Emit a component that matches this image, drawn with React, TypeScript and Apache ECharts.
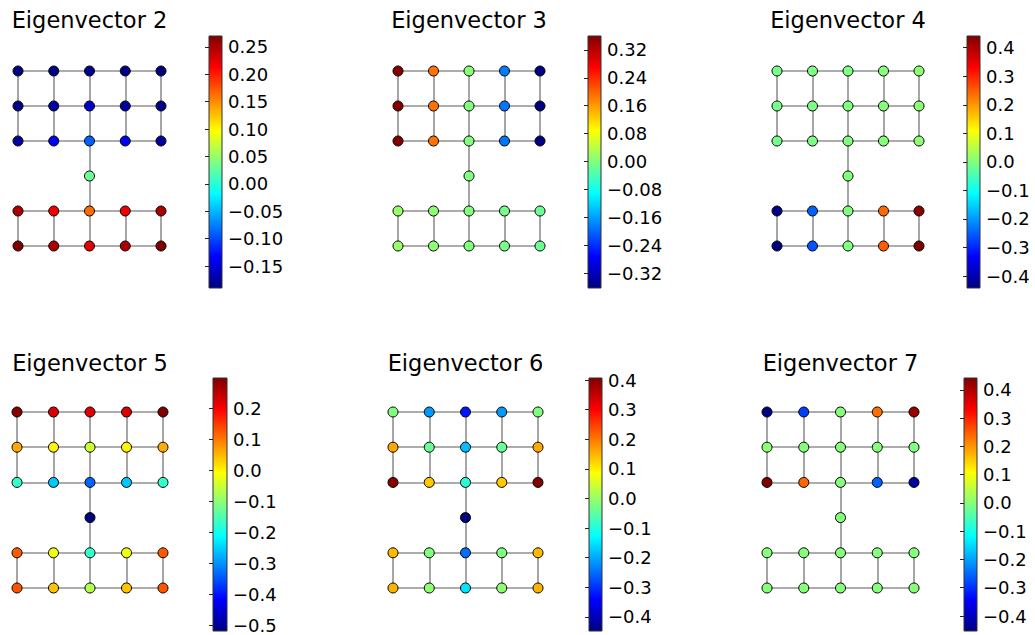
import React, { useEffect, useRef } from "react";
import * as echarts from "echarts";

// ---- data ----
const TITLES = ["Eigenvector 2", "Eigenvector 3", "Eigenvector 4", "Eigenvector 5", "Eigenvector 6", "Eigenvector 7"];

// node layout (grid coordinates): top 3x5 grid, bridge node, bottom 2x5 grid
const NODE_X = [0, 1, 2, 3, 4, 0, 1, 2, 3, 4, 0, 1, 2, 3, 4, 2, 0, 1, 2, 3, 4, 0, 1, 2, 3, 4];
const NODE_Y = [5, 5, 5, 5, 5, 4, 4, 4, 4, 4, 3, 3, 3, 3, 3, 2, 1, 1, 1, 1, 1, 0, 0, 0, 0, 0];

const EDGES: [number, number][] = [
  [0, 1], [1, 2], [2, 3], [3, 4],
  [5, 6], [6, 7], [7, 8], [8, 9],
  [10, 11], [11, 12], [12, 13], [13, 14],
  [16, 17], [17, 18], [18, 19], [19, 20],
  [21, 22], [22, 23], [23, 24], [24, 25],
  [0, 5], [1, 6], [2, 7], [3, 8], [4, 9],
  [5, 10], [6, 11], [7, 12], [8, 13], [9, 14],
  [12, 15], [15, 18],
  [16, 21], [17, 22], [18, 23], [19, 24], [20, 25],
];

const EV2 = [
  -0.19, -0.187, -0.183, -0.187, -0.19,
  -0.186, -0.175, -0.155, -0.175, -0.186,
  -0.178, -0.14, -0.09, -0.14, -0.178,
  0.03,
  0.25, 0.22, 0.165, 0.22, 0.25,
  0.27, 0.25, 0.225, 0.25, 0.27,
];
const EV3 = [
  0.355, 0.19, 0.005, -0.185, -0.36,
  0.358, 0.19, 0.0, -0.19, -0.363,
  0.36, 0.19, 0.0, -0.19, -0.36,
  0.0,
  0.015, 0.008, 0.0, -0.008, -0.015,
  0.015, 0.008, 0.0, -0.008, -0.015,
];
const EV4 = [
  -0.01, -0.005, 0.0, 0.005, 0.01,
  -0.01, -0.005, 0.0, 0.005, 0.01,
  -0.01, -0.005, 0.0, 0.005, 0.01,
  0.0,
  -0.43, -0.25, 0.0, 0.24, 0.43,
  -0.442, -0.26, 0.0, 0.25, 0.441,
];
const EV5 = [
  0.29, 0.225, 0.22, 0.225, 0.298,
  0.06, 0.0, -0.05, 0.0, 0.06,
  -0.172, -0.258, -0.337, -0.258, -0.172,
  -0.519,
  0.125, -0.02, -0.17, -0.02, 0.125,
  0.13, 0.04, -0.07, 0.04, 0.13,
];
const EV6 = [
  -0.02, -0.215, -0.324, -0.215, -0.02,
  0.159, -0.04, -0.182, -0.04, 0.159,
  0.4, 0.133, -0.094, 0.133, 0.407,
  -0.448,
  0.145, -0.02, -0.249, -0.02, 0.145,
  0.15, -0.01, -0.149, -0.01, 0.15,
];
const EV7 = [
  -0.453, -0.288, 0.0, 0.234, 0.42,
  0.005, 0.0, 0.0, 0.0, -0.005,
  0.442, 0.24, 0.0, -0.256, -0.43,
  0.0,
  0.0, 0.0, 0.0, 0.0, 0.0,
  0.0, 0.0, 0.0, 0.0, 0.0,
];
const VALUES = [EV2, EV3, EV4, EV5, EV6, EV7];

const TICKS = [
  [-0.15, -0.1, -0.05, 0.0, 0.05, 0.1, 0.15, 0.2, 0.25],
  [-0.32, -0.24, -0.16, -0.08, 0.0, 0.08, 0.16, 0.24, 0.32],
  [-0.4, -0.3, -0.2, -0.1, 0.0, 0.1, 0.2, 0.3, 0.4],
  [-0.5, -0.4, -0.3, -0.2, -0.1, 0.0, 0.1, 0.2],
  [-0.4, -0.3, -0.2, -0.1, 0.0, 0.1, 0.2, 0.3, 0.4],
  [-0.4, -0.3, -0.2, -0.1, 0.0, 0.1, 0.2, 0.3, 0.4],
];
const TICK_DECIMALS = [2, 2, 1, 1, 1, 1];

const JET = ["#000080", "#0000ff", "#0080ff", "#00ffff", "#80ff80", "#ffff00", "#ff8000", "#ff0000", "#800000"];

// ---- layout ----
const GRAPH_BOX = [
  { left: 18, top: 71, width: 143, height: 175 },
  { left: 398, top: 71, width: 142, height: 175 },
  { left: 777, top: 71, width: 142, height: 175 },
  { left: 17, top: 412, width: 146, height: 176 },
  { left: 393, top: 412, width: 145, height: 176 },
  { left: 767, top: 412, width: 147, height: 176 },
];
const BAR_BOX = [
  { left: 209, top: 36, width: 13, height: 252 },
  { left: 588, top: 36, width: 13, height: 252 },
  { left: 967, top: 36, width: 13, height: 252 },
  { left: 213, top: 378, width: 14, height: 253 },
  { left: 589, top: 378, width: 13, height: 253 },
  { left: 964, top: 378, width: 13, height: 253 },
];
const TITLE_TOP = [8, 8, 8, 351, 351, 351];

const FONT = "DejaVu Sans";

function buildOption() {
  const grid: any[] = [];
  const xAxis: any[] = [];
  const yAxis: any[] = [];
  const series: any[] = [];
  const visualMap: any[] = [];
  const graphic: any[] = [];

  VALUES.forEach((vals, p) => {
    const vmin = Math.min(...vals);
    const vmax = Math.max(...vals);
    const g = GRAPH_BOX[p];
    const b = BAR_BOX[p];
    const gi = grid.length;
    grid.push({ ...g, containLabel: false });
    xAxis.push({ type: "value", gridIndex: gi, min: 0, max: 4, show: false });
    yAxis.push({ type: "value", gridIndex: gi, min: 0, max: 5, show: false });
    const bi = grid.length;
    grid.push({ ...b, containLabel: false });
    xAxis.push({ type: "value", gridIndex: bi, min: 0, max: 1, show: false });
    const dec = TICK_DECIMALS[p];
    yAxis.push({
      type: "value",
      gridIndex: bi,
      min: vmin,
      max: vmax,
      position: "right",
      z: 10,
      axisLine: { show: false },
      splitLine: { show: false },
      axisTick: { show: true, inside: true, length: 4, customValues: TICKS[p], lineStyle: { color: "#222", width: 1 } },
      axisLabel: {
        customValues: TICKS[p],
        margin: 6,
        fontSize: 18,
        fontFamily: FONT,
        color: "#000",
        formatter: (v: number) => Number(v).toFixed(dec).replace("-", "\u2212"),
      },
    });

    graphic.push({
      type: "text",
      x: g.left + g.width / 2,
      y: TITLE_TOP[p],
      silent: true,
      style: {
        text: TITLES[p],
        font: `22.5px "${FONT}"`,
        fill: "#000",
        textAlign: "center",
        textVerticalAlign: "top",
      },
    });

    // edges
    series.push({
      type: "lines",
      coordinateSystem: "cartesian2d",
      xAxisIndex: gi,
      yAxisIndex: gi,
      z: 1,
      clip: false,
      silent: true,
      lineStyle: { color: "#909090", width: 1.6, opacity: 1 },
      data: EDGES.map(([a, c]) => ({ coords: [[NODE_X[a], NODE_Y[a]], [NODE_X[c], NODE_Y[c]]] })),
    });
    // nodes
    const scatterIndex = series.length;
    series.push({
      type: "scatter",
      xAxisIndex: gi,
      yAxisIndex: gi,
      z: 3,
      clip: false,
      symbolSize: 10,
      itemStyle: { borderColor: "#000", borderWidth: 1, opacity: 1 },
      data: vals.map((v, i) => [NODE_X[i], NODE_Y[i], v]),
    });
    visualMap.push({
      type: "continuous",
      show: false,
      seriesIndex: scatterIndex,
      dimension: 2,
      min: vmin,
      max: vmax,
      inRange: { color: JET },
    });
    // colorbar
    const grad = new echarts.graphic.LinearGradient(
      0, 0, 0, 1,
      JET.slice().reverse().map((c, i) => ({ offset: i / (JET.length - 1), color: c }))
    );
    series.push({
      type: "custom",
      xAxisIndex: bi,
      yAxisIndex: bi,
      z: 2,
      clip: false,
      silent: true,
      data: [[0, vmin]],
      renderItem: (_params: any, api: any) => {
        const p1 = api.coord([0, vmax]);
        const p2 = api.coord([1, vmin]);
        return {
          type: "rect",
          shape: { x: p1[0], y: p1[1], width: p2[0] - p1[0], height: p2[1] - p1[1] },
          style: { fill: grad, stroke: "#333", lineWidth: 1 },
        };
      },
    });
  });

  return { animation: false, backgroundColor: "#fff", graphic, grid, xAxis, yAxis, series, visualMap };
}

export default function App() {
  const ref = useRef<HTMLDivElement>(null);
  useEffect(() => {
    if (!ref.current) return;
    const chart = echarts.init(ref.current, null, { renderer: "svg" });
    chart.setOption(buildOption() as any);
    return () => chart.dispose();
  }, []);
  return <div ref={ref} style={{ position: "absolute", left: 0, top: 0, width: 1035, height: 635 }} />;
}
